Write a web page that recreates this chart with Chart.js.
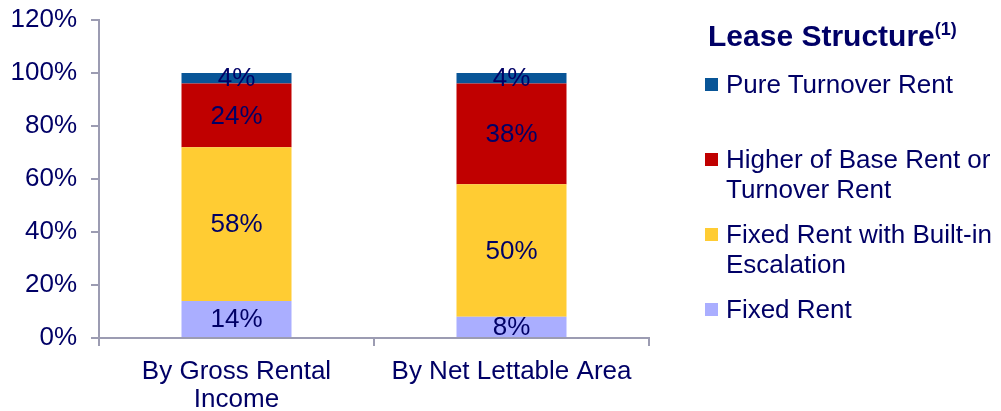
<!DOCTYPE html>
<html>
<head>
<meta charset="utf-8">
<script src="https://cdn.jsdelivr.net/npm/chart.js@4.4.1/dist/chart.umd.min.js"></script>
<style>
  body { margin: 0; background: #fff; font-family: "Liberation Sans", Arial, sans-serif; overflow: hidden; }
  .wrap { position: relative; width: 1001px; height: 411px; overflow: hidden; }
  #leaseChart { position: absolute; left: 0; top: 0; }
  .legend { position: absolute; left: 705px; top: 0; width: 296px; color: #000066; }
  .legend-title { position: absolute; left: 3px; top: 18px; font-size: 30px; font-weight: bold; white-space: nowrap; line-height: 36px; }
  .legend-title sup { font-size: 18px; line-height: 0; }
  .legend-item { position: absolute; left: 0; width: 296px; font-size: 26px; line-height: 30px; }
  .legend-box { position: absolute; left: 0; top: 9px; width: 13px; height: 13px; }
  .legend-text { margin-left: 21px; width: 275px; }
</style>
</head>
<body>
<div class="wrap">
  <canvas id="leaseChart" width="1001" height="411"></canvas>
  <div class="legend" id="legend">
    <div class="legend-title">Lease Structure<sup>(1)</sup></div>
  </div>
</div>
<script>
  // Chart data
  const categories = [['By Gross Rental', 'Income'], 'By Net Lettable Area'];
  const seriesNames = ['Fixed Rent', 'Fixed Rent with Built-in Escalation', 'Higher of Base Rent or Turnover Rent', 'Pure Turnover Rent'];
  const fixedRent = [14, 8];
  const fixedEscalation = [58, 50];
  const higherOf = [24, 38];
  const pureTurnover = [4, 4];
  const yTicks = [0, 20, 40, 60, 80, 100, 120];

  const colors = ['#aaaeff', '#ffcc33', '#c00000', '#085597'];
  const textColor = '#000066';
  const axisColor = '#9c9cb2';
  const fontFamily = '"Liberation Sans", Arial, sans-serif';

  // Draw the value in the middle of each segment
  const segmentLabels = {
    id: 'segmentLabels',
    afterDatasetsDraw(chart) {
      const ctx = chart.ctx;
      ctx.save();
      ctx.font = '26px ' + fontFamily;
      ctx.fillStyle = textColor;
      ctx.textAlign = 'center';
      ctx.textBaseline = 'middle';
      chart.data.datasets.forEach((ds, i) => {
        chart.getDatasetMeta(i).data.forEach((bar, j) => {
          const mid = (bar.y + bar.base) / 2;
          ctx.fillText(ds.data[j] + '%', bar.x, mid + 1);
        });
      });
      ctx.restore();
    }
  };

  const seriesData = [fixedRent, fixedEscalation, higherOf, pureTurnover];

  const chart = new Chart(document.getElementById('leaseChart').getContext('2d'), {
    type: 'bar',
    data: {
      labels: categories,
      datasets: seriesNames.map((name, i) => ({
        label: name,
        data: seriesData[i],
        backgroundColor: colors[i],
        borderWidth: 0,
        barPercentage: 0.4,
        categoryPercentage: 1.0
      }))
    },
    options: {
      responsive: false,
      animation: false,
      layout: { padding: { left: 0, right: 352, top: 20, bottom: 0 } },
      plugins: {
        legend: { display: false },
        tooltip: { enabled: false }
      },
      scales: {
        x: {
          stacked: true,
          grid: {
            offset: true,
            drawOnChartArea: false,
            drawTicks: true,
            tickLength: 8,
            color: axisColor,
            lineWidth: 2
          },
          border: { color: axisColor, width: 2 },
          ticks: {
            color: textColor,
            font: { family: fontFamily, size: 26, lineHeight: 1.08 },
            padding: 12,
            maxRotation: 0
          },
          afterFit(scale) { scale.height = 73; }
        },
        y: {
          stacked: true,
          min: 0,
          max: 120,
          afterBuildTicks(scale) { scale.ticks = yTicks.map(v => ({ value: v })); },
          grid: {
            drawOnChartArea: false,
            drawTicks: true,
            tickLength: 8,
            color: axisColor,
            lineWidth: 2
          },
          border: { color: axisColor, width: 2 },
          ticks: {
            color: textColor,
            font: { family: fontFamily, size: 26 },
            padding: 14,
            callback: v => v + '%'
          },
          afterFit(scale) {
            scale.width = 99;
            scale.paddingTop = 0;
            scale.paddingBottom = 0;
          }
        }
      }
    },
    plugins: [segmentLabels]
  });

  // Build legend (top of stack first)
  const legend = document.getElementById('legend');
  const order = [3, 2, 1, 0];
  order.forEach((idx, k) => {
    const item = document.createElement('div');
    item.className = 'legend-item';
    item.style.top = (69 + k * 75) + 'px';
    const box = document.createElement('div');
    box.className = 'legend-box';
    box.style.background = colors[idx];
    const text = document.createElement('div');
    text.className = 'legend-text';
    text.textContent = seriesNames[idx];
    item.appendChild(box);
    item.appendChild(text);
    legend.appendChild(item);
  });
</script>
</body>
</html>
